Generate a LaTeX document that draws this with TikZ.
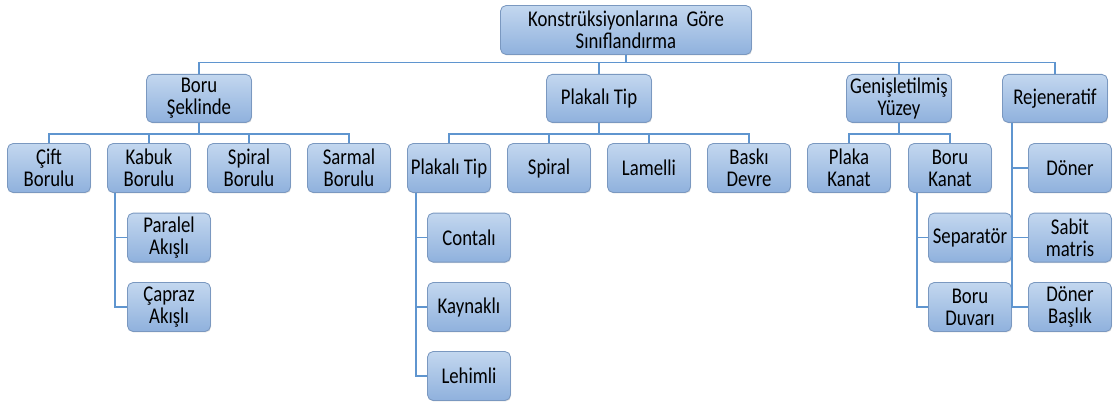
\documentclass[tikz,border=0pt]{standalone}
\usepackage{fontspec}
\setmainfont[FakeStretch=0.834]{Carlito}
\definecolor{boxtop}{HTML}{C3D7EF}
\definecolor{boxbot}{HTML}{8FB1DD}
\definecolor{boxedge}{HTML}{7A98C0}
\definecolor{wire}{HTML}{5F95CF}
\usepackage{tikz}
\usetikzlibrary{shadows}

\begin{document}
\begin{tikzpicture}[
  box/.style={draw=boxedge, line width=0.6pt, top color=boxtop, bottom color=boxbot,
              rounded corners=4pt, minimum width=2.075cm, minimum height=1.225cm,
              align=center, inner sep=1pt, font=\fontsize{16}{15.8}\selectfont,
              drop shadow={shadow xshift=0.5pt, shadow yshift=-0.7pt, opacity=0.25}},
  wide/.style={box, minimum width=2.625cm, minimum height=1.2cm},
  link/.style={draw=wire, line width=1.1pt},
]
\useasboundingbox (0,0) rectangle (27.925,-10.15);

% top
\node[box, minimum width=6.275cm] (root) at (15.65,-0.75) {Konstrüksiyonlarına\ \ Göre\\Sınıflandırma};

% first level
\node[wide] (boru) at (4.975,-2.46) {Boru\\Şeklinde};
\node[wide] (plakali) at (14.975,-2.46) {Plakalı Tip};
\node[wide] (genis) at (22.475,-2.46) {Genişletilmiş\\Yüzey};
\node[wide] (rejen) at (26.375,-2.46) {Rejeneratif};

% second level
\node[box] (cift) at (1.225,-4.2) {Çift\\Borulu};
\node[box] (kabuk) at (3.725,-4.2) {Kabuk\\Borulu};
\node[box] (spiralb) at (6.225,-4.2) {Spiral\\Borulu};
\node[box] (sarmal) at (8.725,-4.2) {Sarmal\\Borulu};
\node[box] (plaktip) at (11.225,-4.2) {Plakalı Tip};
\node[box] (spiral) at (13.725,-4.2) {Spiral};
\node[box] (lamelli) at (16.225,-4.2) {Lamelli};
\node[box] (baski) at (18.725,-4.2) {Baskı\\Devre};
\node[box] (plaka) at (21.225,-4.2) {Plaka\\Kanat};
\node[box] (borukanat) at (23.75,-4.2) {Boru\\Kanat};
\node[box] (doner) at (26.75,-4.2) {Döner};

% side lists
\node[box] (paralel) at (4.225,-5.94) {Paralel\\Akışlı};
\node[box] (capraz) at (4.225,-7.675) {Çapraz\\Akışlı};
\node[box] (contali) at (11.725,-5.94) {Contalı};
\node[box] (kaynakli) at (11.725,-7.675) {Kaynaklı};
\node[box] (lehimli) at (11.725,-9.4) {Lehimli};
\node[box] (separator) at (24.25,-5.94) {Separatör};
\node[box] (duvar) at (24.25,-7.675) {Boru\\Duvarı};
\node[box] (sabit) at (26.75,-5.94) {Sabit\\matris};
\node[box] (donerb) at (26.75,-7.675) {Döner\\Başlık};

% connectors
\foreach \c in {boru,plakali,genis,rejen}
  \draw[link] (root.south) -- ++(0,-0.19) -| (\c.north);
\foreach \c in {cift,kabuk,spiralb,sarmal}
  \draw[link] (boru.south) -- ++(0,-0.28) -| (\c.north);
\foreach \c in {plaktip,spiral,lamelli,baski}
  \draw[link] (plakali.south) -- ++(0,-0.28) -| (\c.north);
\foreach \c in {plaka,borukanat}
  \draw[link] (genis.south) -- ++(0,-0.28) -| (\c.north);
\foreach \c in {paralel,capraz}
  \draw[link] ([xshift=0.2cm]kabuk.south west) |- (\c.west);
\foreach \c in {contali,kaynakli,lehimli}
  \draw[link] ([xshift=0.22cm]plaktip.south west) |- (\c.west);
\foreach \c in {separator,duvar}
  \draw[link] ([xshift=0.22cm]borukanat.south west) |- (\c.west);
\foreach \c in {doner,sabit,donerb}
  \draw[link] ([xshift=0.25cm]rejen.south west) |- (\c.west);
\end{tikzpicture}
\end{document}
